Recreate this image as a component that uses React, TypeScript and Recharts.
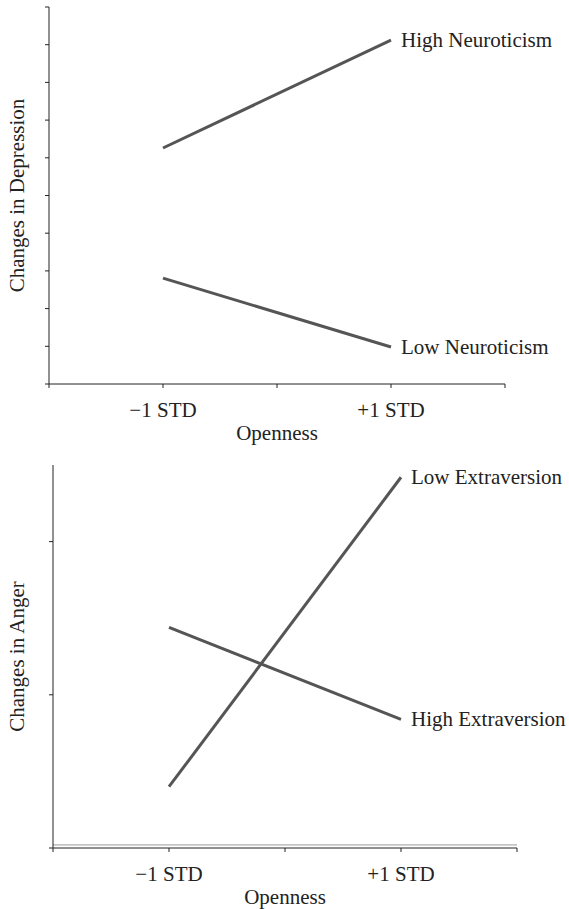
import React from 'react';
import { LineChart, Line, XAxis, YAxis, LabelList, ReferenceLine } from 'recharts';

const xTickLabels = ['−1 STD', '+1 STD'];
const xPositions = [1, 3];

const depressionSeriesNames = ['High Neuroticism', 'Low Neuroticism'];
const highNeuroticism = [6.26, 9.12];
const lowNeuroticism = [2.81, 0.98];

const angerSeriesNames = ['Low Extraversion', 'High Extraversion'];
const lowExtraversion = [0.4, 2.42];
const highExtraversion = [1.44, 0.84];

const depressionTicks = [0, 1, 2, 3, 4, 5, 6, 7, 8, 9, 10];
const angerTicks = [0, 1, 2];
const xTicks = [0, 1, 2, 3, 4];

const FONT = '"Liberation Serif", "Times New Roman", serif';
const FS = 21;
const LINE_COLOR = '#555555';
const AXIS_COLOR = '#222222';

const depressionData = xPositions.map((x, i) => ({
  x,
  high: highNeuroticism[i],
  low: lowNeuroticism[i],
}));

const angerData = xPositions.map((x, i) => ({
  x,
  low: lowExtraversion[i],
  high: highExtraversion[i],
}));

const xFormatter = (v: number) => {
  const idx = xPositions.indexOf(v);
  return idx >= 0 ? xTickLabels[idx] : '';
};

const endLabel = (name: string, lastIndex: number) => (props: any) => {
  const { x, y, index } = props;
  if (index !== lastIndex) return null;
  return (
    <text
      x={x + 10}
      y={y}
      dominantBaseline="central"
      fontFamily={FONT}
      fontSize={FS}
      fill="#222"
    >
      {name}
    </text>
  );
};

const yTitle = (title: string) => (props: any) => {
  const vb = props.viewBox || {};
  const cy = vb.y + vb.height / 2;
  const cx = 17;
  return (
    <text
      x={cx}
      y={cy}
      transform={`rotate(-90, ${cx}, ${cy})`}
      textAnchor="middle"
      dominantBaseline="central"
      fontFamily={FONT}
      fontSize={FS}
      fill="#222"
    >
      {title}
    </text>
  );
};

const tickStyle = { fontFamily: FONT, fontSize: FS, fill: '#222' };

export default function App() {
  return (
    <div style={{ position: 'absolute', left: 0, top: 0, width: 569, height: 909, background: '#fff' }}>
      <LineChart
        width={569}
        height={450}
        data={depressionData}
        margin={{ top: 7, right: 64, bottom: 0, left: 0 }}
      >
        <XAxis
          dataKey="x"
          type="number"
          domain={[0, 4]}
          ticks={xTicks}
          tickFormatter={xFormatter}
          tickSize={4}
          tickMargin={14}
          height={66}
          stroke={AXIS_COLOR}
          tick={tickStyle}
          interval={0}
          label={{ value: 'Openness', position: 'insideBottom', offset: 10, style: { fontFamily: FONT, fontSize: FS, fill: '#222' } }}
        />
        <YAxis
          type="number"
          domain={[0, 10]}
          ticks={depressionTicks}
          tickFormatter={() => ''}
          tickSize={4}
          width={49}
          stroke={AXIS_COLOR}
          interval={0}
          label={{ content: yTitle('Changes in Depression') }}
        />
        <Line
          dataKey="high"
          stroke={LINE_COLOR}
          strokeWidth={3}
          dot={false}
          isAnimationActive={false}
        >
          <LabelList content={endLabel(depressionSeriesNames[0], 1)} />
        </Line>
        <Line
          dataKey="low"
          stroke={LINE_COLOR}
          strokeWidth={3}
          dot={false}
          isAnimationActive={false}
        >
          <LabelList content={endLabel(depressionSeriesNames[1], 1)} />
        </Line>
      </LineChart>
      <LineChart
        width={569}
        height={459}
        data={angerData}
        margin={{ top: 15, right: 52, bottom: 0, left: 0 }}
      >
        <XAxis
          dataKey="x"
          type="number"
          domain={[0, 4]}
          ticks={xTicks}
          tickFormatter={xFormatter}
          tickSize={4}
          tickMargin={14}
          height={61}
          stroke={AXIS_COLOR}
          tick={tickStyle}
          interval={0}
          label={{ value: 'Openness', position: 'insideBottom', offset: 5, style: { fontFamily: FONT, fontSize: FS, fill: '#222' } }}
        />
        <YAxis
          type="number"
          domain={[0, 2.5]}
          ticks={angerTicks}
          tickFormatter={() => ''}
          tickSize={4}
          width={53}
          stroke={AXIS_COLOR}
          interval={0}
          label={{ content: yTitle('Changes in Anger') }}
        />
        <ReferenceLine y={0.02} stroke="#999" strokeWidth={1} />
        <Line
          dataKey="low"
          stroke={LINE_COLOR}
          strokeWidth={3}
          dot={false}
          isAnimationActive={false}
        >
          <LabelList content={endLabel(angerSeriesNames[0], 1)} />
        </Line>
        <Line
          dataKey="high"
          stroke={LINE_COLOR}
          strokeWidth={3}
          dot={false}
          isAnimationActive={false}
        >
          <LabelList content={endLabel(angerSeriesNames[1], 1)} />
        </Line>
      </LineChart>
    </div>
  );
}
